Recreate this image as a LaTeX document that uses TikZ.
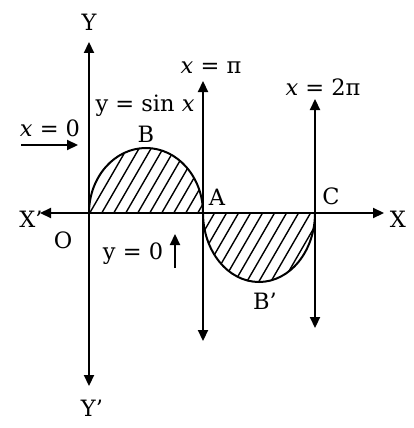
\documentclass[tikz,border=0pt]{standalone}
\usepackage{fontspec}
\setmainfont{DejaVu Serif}
\usetikzlibrary{arrows.meta}
\begin{document}
\begin{tikzpicture}[x=1pt,y=-1pt,
  axis/.style={line width=2.2pt,-{Triangle[width=10pt,length=11pt]}},
  dblaxis/.style={line width=2.2pt,{Triangle[width=10pt,length=11pt]}-{Triangle[width=10pt,length=11pt]}},
  curve/.style={line width=2pt},
  hatch/.style={line width=1.4pt},
  lbl/.style={font=\fontsize{22.5}{26}\selectfont,inner sep=0pt}]
\useasboundingbox (0,0) rectangle (414,428);
% coordinates
\coordinate (O) at (89,213);
\coordinate (Ytop) at (89,42);
\coordinate (Ybot) at (89,386);
\coordinate (Xl) at (40,213);
\coordinate (Xr) at (384,213);
\coordinate (Ptop) at (203,81);
\coordinate (Pbot) at (203,341);
\coordinate (Ctop) at (315,99);
\coordinate (Cbot) at (315,328);
\coordinate (A) at (203,213);
\coordinate (Cpt) at (315,213);
% hatching upper
\begin{scope}
\clip (O) arc[start angle=180,end angle=0,x radius=57,y radius=-65] -- cycle;
\foreach \i in {-80,-68,...,220} \draw[hatch] (\i,216) -- ++(70,-121);
\end{scope}
% hatching lower
\begin{scope}
\clip (A) arc[start angle=180,end angle=360,x radius=56,y radius=-69] -- cycle;
\foreach \i in {110,122,...,330} \draw[hatch] (\i,290) -- ++(70,-121);
\end{scope}
% curves
\draw[curve] (O) arc[start angle=180,end angle=0,x radius=57,y radius=-65];
\draw[curve] (A) arc[start angle=180,end angle=360,x radius=56,y radius=-69];
% axes
\draw[axis] (O) -- (Ytop);
\draw[axis] (O) -- (Ybot);
\draw[axis] (O) -- (Xl);
\draw[axis] (O) -- (Xr);
\draw[dblaxis] (Pbot) -- (Ptop);
\draw[dblaxis] (Cbot) -- (Ctop);
% small arrows
\coordinate (a1) at (21,145);
\coordinate (a2) at (78,145);
\draw[axis] (a1) -- (a2);
\coordinate (b1) at (175,268);
\coordinate (b2) at (175,234);
\draw[axis] (b1) -- (b2);
% labels
\node[lbl] (lY) at (89,22) {Y};
\node[lbl] (lYp) at (92,408) {Y'};
\node[lbl] (lXp) at (31,219) {X'};
\node[lbl] (lX) at (398,219) {X};
\node[lbl] (lO) at (63,240) {O};
\node[lbl] (lA) at (217,197) {A};
\node[lbl] (lC) at (331,196) {C};
\node[lbl] (lB) at (146,134) {B};
\node[lbl] (lBp) at (265,301) {B'};
\node[lbl] (lsin) at (145,106) {y = sin \textit{x}};
\node[lbl] (lx0) at (50,128) {\textit{x} = 0};
\node[lbl] (ly0) at (133,254) {y = 0};
\node[lbl] (lpi) at (211,68) {\textit{x} = π};
\node[lbl] (l2pi) at (323,87) {\textit{x} = 2π};
\end{tikzpicture}
\end{document}
